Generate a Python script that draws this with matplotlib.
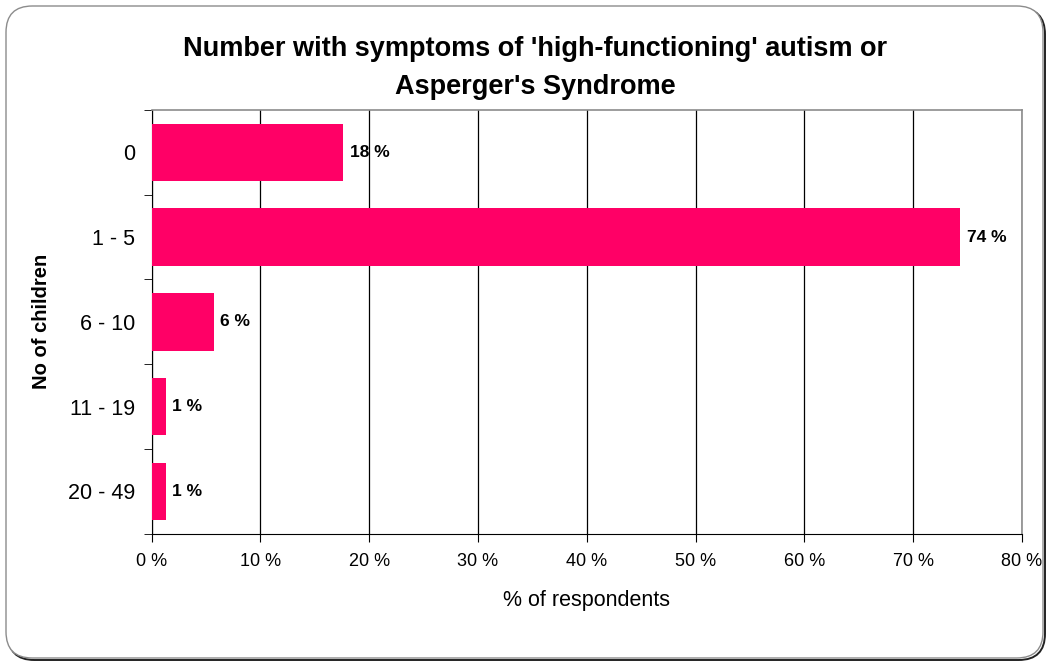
import numpy as np
import matplotlib
matplotlib.use("Agg")
import matplotlib.pyplot as plt
from matplotlib.patches import FancyBboxPatch

# data
groups = ["0", "1 - 5", "6 - 10", "11 - 19", "20 - 49"]
pct = [17.6, 74.3, 5.7, 1.3, 1.3]
labels = ["18 %", "74 %", "6 %", "1 %", "1 %"]
xticks = [0, 10, 20, 30, 40, 50, 60, 70, 80]

plt.rcParams['font.family'] = ['Liberation Sans', 'DejaVu Sans']

fig = plt.figure(figsize=(10.53, 6.66), dpi=100)

# rounded frame with a little shadow
W, H = 1053, 666
shadow = FancyBboxPatch((8 / W, 6 / H), 1037 / W, 652 / H,
                        boxstyle="round,pad=0,rounding_size=0.025",
                        transform=fig.transFigure, facecolor="none",
                        edgecolor="#222222", lw=1.4, zorder=-3,
                        mutation_aspect=W / H)
frame = FancyBboxPatch((6 / W, 8 / H), 1037 / W, 652 / H,
                       boxstyle="round,pad=0,rounding_size=0.025",
                       transform=fig.transFigure, facecolor="white",
                       edgecolor="#8c8c8c", lw=1.0, zorder=-2,
                       mutation_aspect=W / H)
fig.patches.extend([shadow, frame])

ax = fig.add_axes([151.5 / W, 1 - 533.7 / H, 870.5 / W, 423.7 / H])
ax.set_facecolor("white")

y = np.arange(len(groups))
ax.barh(y, pct, height=0.68, color="#ff0066", zorder=3)
for yi, v, lab in zip(y, pct, labels):
    ax.text(v + 0.6, yi, lab, va="center", ha="left", fontsize=12.5,
            fontweight="bold", zorder=4)

ax.set_xlim(0, 80)
ax.set_ylim(len(groups) - 0.5, -0.5)
ax.set_xticks(xticks)
ax.set_xticklabels([f"{t} %" for t in xticks], fontsize=13)
ax.grid(axis="x", color="black", lw=0.9, zorder=1)

ax.set_yticks(y)
ax.set_yticklabels(groups, fontsize=15.5)
ax.set_yticks(np.arange(-0.5, len(groups)), minor=True)
ax.tick_params(axis="y", which="major", length=0, pad=12)
ax.tick_params(axis="y", which="minor", length=6, direction="out", color="black")
ax.tick_params(axis="x", length=6, direction="out", pad=8)

for s in ["top", "right"]:
    ax.spines[s].set_color("#8c8c8c")
    ax.spines[s].set_linewidth(1.2)
for s in ["left", "bottom"]:
    ax.spines[s].set_color("black")

ax.set_xlabel("% of respondents", fontsize=15.5, labelpad=14)
ax.set_ylabel("No of children", fontsize=14.5, fontweight="bold", labelpad=12)

fig.text(0.508, 1 - 68.5 / H,
         "Number with symptoms of 'high-functioning' autism or\nAsperger's Syndrome",
         ha="center", va="center", fontsize=19.5, fontweight="bold",
         linespacing=1.6)

fig.savefig("out.png", dpi=100)
